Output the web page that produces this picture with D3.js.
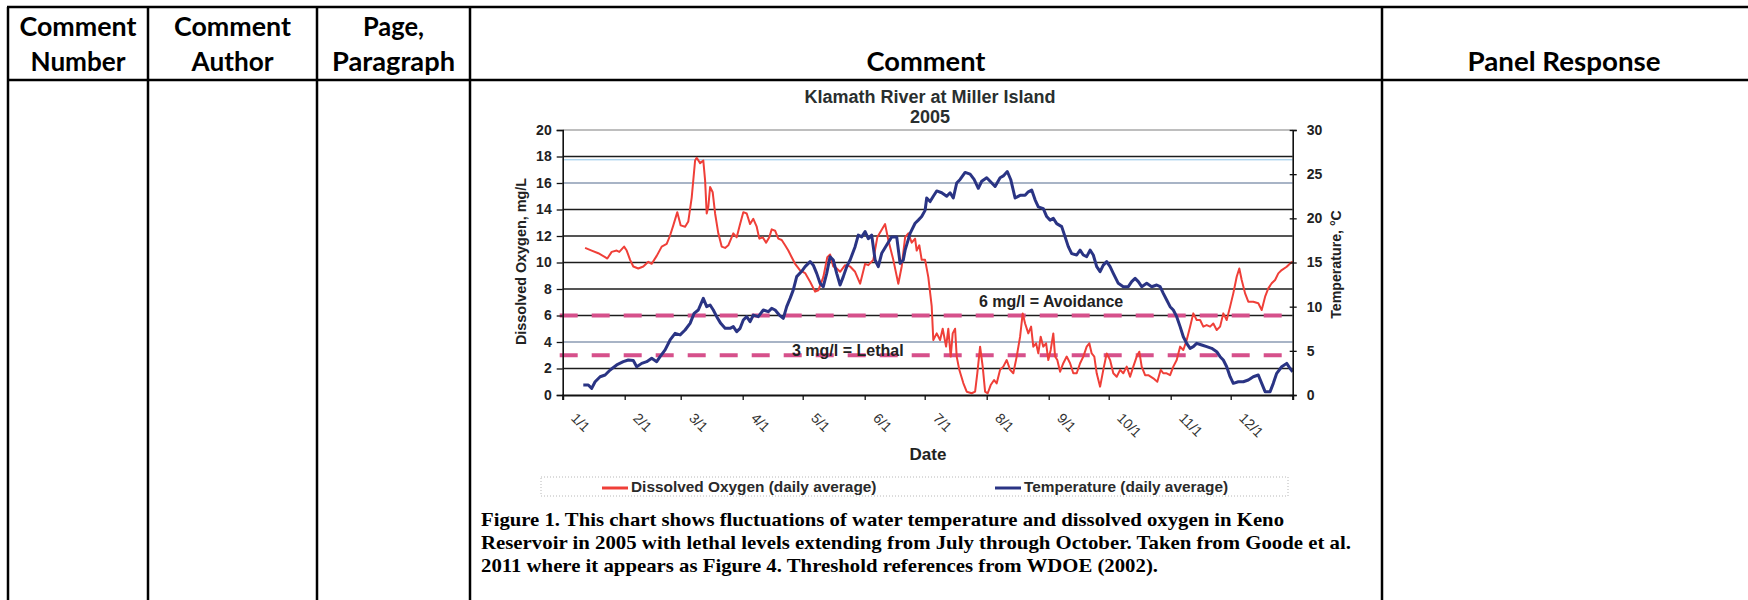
<!DOCTYPE html>
<html>
<head>
<meta charset="utf-8">
<script src="https://cdn.jsdelivr.net/npm/d3@7"></script>
<style>
  html, body { margin: 0; padding: 0; background: #fff; }
  svg { display: block; }
</style>
</head>
<body>
<svg id="page" width="1748" height="600"></svg>
<script>
// ---- Data -------------------------------------------------------------
// Daily-average dissolved oxygen, Klamath River at Miller Island, 2005
// [day of year (0 = Jan 1), mg/L]
const dissolvedOxygen = [
  [11.2,11.1],[14.5,10.9],[17.8,10.7],[21.2,10.4],[22.3,10.3],[24.5,10.8],[27,10.9],[28.3,10.8],
  [30.7,11.2],[32,10.9],[33.7,10.2],[35.3,9.7],[37.8,9.55],[40.3,9.7],[42.8,10.05],[44.5,9.9],
  [47,10.5],[49.5,11.2],[52,11.4],[53.6,12.0],[55.3,12.8],[57.3,13.8],[59,12.8],[61.2,12.7],
  [62.8,13.1],[64.5,14.9],[66.2,17.7],[67,17.9],[68.7,17.5],[70.3,17.7],[71.2,16.2],[72,13.7],
  [72.8,14.2],[73.7,15.7],[75,15.3],[76.2,13.7],[77.8,12.2],[79.5,11.2],[81.2,11.1],[82.8,11.3],
  [85.3,12.2],[87,11.9],[88.7,12.9],[90.3,13.8],[92,13.7],[93.7,12.9],[95.3,13.3],[97,12.7],
  [98.3,11.8],[100,11.9],[101.7,11.5],[103.3,11.9],[104.5,12.5],[106.2,12.4],[107.8,11.8],
  [109.5,11.7],[111.2,11.3],[112.8,10.9],[114.5,10.4],[116.2,9.9],[118.7,9.4],[121.2,9.2],
  [123.7,8.55],[126.2,7.8],[127.8,7.9],[130.3,8.9],[132.3,10.4],[133.7,10.6],[135.3,9.7],
  [137,9.55],[138.7,9.3],[141.2,9.8],[143.7,9.7],[146.2,9.3],[148.7,8.4],[151.2,9.9],[152.8,9.8],
  [155.3,10.2],[157.3,11.9],[161.2,12.9],[162.8,11.7],[165.3,10.2],[167.8,8.4],[169.5,9.7],
  [171.2,11.9],[172.8,12.2],[174.5,11.5],[176.2,11.8],[177,10.9],[178.3,11.3],[179.5,10.2],
  [181.2,10.2],[182.8,8.9],[184.5,6.7],[185.3,4.15],[187,4.65],[188.7,4.15],[190,5.0],
  [191.7,3.65],[192.8,5.0],[194,2.9],[195,4.65],[196.2,5.0],[197,2.9],[198.3,1.9],[200.3,0.9],
  [202,0.25],[204.5,0.13],[206.2,0.25],[207.3,1.64],[208.7,3.65],[210,2.14],[211.2,0.25],
  [212.5,0.13],[214,0.75],[215.7,1.13],[217,0.88],[218.7,1.9],[220.3,2.14],[222,2.64],
  [223.7,1.9],[225.3,1.64],[227,2.9],[228.7,4.4],[230,6.16],[231.2,5.4],[232.8,4.65],
  [234.2,5.16],[235.3,3.65],[236.7,3.9],[237.8,3.14],[239,4.4],[240.3,3.65],[241.7,3.9],
  [242.8,2.64],[244,3.4],[245.3,4.65],[246.2,2.9],[247.3,2.64],[248.7,1.76],[250.3,2.4],
  [252,2.9],[253.7,2.4],[255.3,1.64],[257,1.64],[258.7,2.4],[260.3,2.9],[262,3.65],[263.3,3.9],
  [264.5,3.14],[265.8,2.9],[267,1.64],[268.7,0.63],[270.3,1.9],[272,3.14],[273.7,2.64],
  [275.3,1.64],[277,1.38],[278.7,1.9],[280.3,1.64],[282,2.14],[283.7,1.38],[285.3,2.14],
  [287,2.9],[288.3,3.27],[289.5,2.14],[291.2,1.5],[292.8,1.5],[295.3,1.26],[297.3,1.0],
  [299,1.9],[300.3,1.64],[302,1.64],[303.7,1.5],[305.3,2.14],[307,2.64],[308.7,3.65],
  [310.3,3.4],[312,4.15],[313.7,5.16],[315.3,6.16],[317,5.66],[318.7,5.66],[320.3,5.16],
  [322,5.28],[323.7,5.16],[325.3,5.4],[327,4.9],[328.7,5.16],[330.3,6.16],[332,5.66],
  [333.7,6.67],[335.3,7.67],[337,8.93],[338.3,9.55],[339.5,8.68],[341.2,7.67],[342.8,7.04],
  [345.3,7.04],[347.8,6.92],[349.5,6.41],[351.2,7.42],[352.8,8.05],[354.5,8.43],[356.2,8.68],
  [357.8,9.18],[359.5,9.43],[362,9.68],[363.7,9.93],[365,10.06]
];

// Daily-average water temperature [day of year, °C]
const waterTemperature = [
  [10.3,1.13],[12.8,1.13],[14.5,0.75],[16.2,1.5],[18.7,2.07],[21.2,2.26],[23.7,2.83],[27,3.4],
  [30.3,3.77],[32.8,3.96],[35.3,3.9],[37,3.2],[39.5,3.58],[42,3.77],[44.5,4.15],[47,3.77],
  [48.7,4.34],[51.2,5.1],[53.7,6.23],[56.2,6.98],[58.7,6.8],[61.2,7.36],[63.7,8.11],[65.7,9.24],
  [67.8,9.62],[70.3,10.94],[72,10],[73.7,10.19],[75.3,9.62],[77,8.87],[79,8.11],[81.2,7.55],
  [83.7,7.55],[85.3,7.74],[87,7.17],[88.7,7.55],[90.3,8.49],[92,8.87],[93.7,8.3],[95.3,9.05],
  [97.8,8.87],[100.3,9.62],[102.8,9.43],[104.5,9.81],[106.2,9.62],[108.3,9.05],[110.3,8.68],
  [112,10],[113.7,10.94],[115.3,11.9],[117,13.4],[119.5,14],[121.2,14.53],[123.7,15.1],
  [125.3,14.7],[127,13.77],[128.7,12.64],[130.3,12.26],[132,13.77],[133.7,15.66],[135.3,15.28],
  [137,13.77],[138.7,12.45],[140.3,13.4],[142,14.53],[143.7,15.28],[146.2,16.79],[147.8,18.1],
  [149.5,17.9],[151.2,18.5],[152.8,17.7],[154.5,18.1],[156.2,15.28],[157.8,14.53],[159.5,16.04],
  [162,16.98],[164.5,17.9],[167,17.9],[168.7,14.9],[170.3,15.28],[171.2,16.4],[173.7,18.3],
  [176.2,19.44],[177.8,19.8],[179.5,20.2],[181.2,20.9],[182,22.3],[183.7,21.9],[185.3,22.5],
  [187,23.1],[189.5,22.9],[192,22.5],[193.7,22.9],[195.3,22.3],[197,24],[198.7,24.4],
  [201.2,25.2],[203.7,25],[205.7,24.4],[207.8,23.4],[209.5,24.2],[212,24.6],[213.7,24.2],
  [216.2,23.6],[218.7,24.6],[220.3,24.8],[222.3,25.3],[224,24.4],[226.2,22.3],[228.7,22.6],
  [231.2,22.6],[232.8,23],[234.5,23.2],[236.2,22.1],[237.8,21.3],[240.3,21.1],[242,20.2],
  [243.7,19.8],[245.3,20],[247,19.4],[249.5,19.06],[251.2,17.9],[252.8,16.8],[254.5,16],
  [257,15.85],[258.7,16.4],[260.3,15.85],[262,15.66],[263.7,16.4],[265.3,15.85],[267,14.53],
  [268.7,13.96],[270.3,14.7],[272,15.1],[273.7,14.53],[275.3,13.77],[277.8,12.64],[280.3,12.26],
  [282.8,12.26],[284.5,12.83],[286.2,13.2],[287.8,12.83],[289.5,12.26],[292,12.64],[294.5,12.26],
  [297,12.45],[298.7,12.26],[300.3,11.5],[302,10.75],[303.7,10],[305.3,9.62],[307,8.87],
  [308.7,7.74],[310.3,6.6],[312,5.85],[313.7,5.28],[315.3,5.47],[317,5.85],[319.5,5.66],
  [322,5.47],[324.5,5.28],[327,4.9],[328.7,4.34],[330.3,3.96],[332,3.2],[333.7,2.07],
  [335.3,1.32],[337.8,1.5],[340.3,1.5],[342.8,1.7],[345.3,2.07],[347.8,2.26],[349.5,1.32],
  [351.2,0.38],[353.7,0.38],[355.3,1.32],[357,2.45],[359.5,3.2],[362,3.58],[363.7,3.0],[365,2.64]
];

const oxygenTicks = [0, 2, 4, 6, 8, 10, 12, 14, 16, 18, 20];
const temperatureTicks = [0, 5, 10, 15, 20, 25, 30];
const monthLabels = ["1/1","2/1","3/1","4/1","5/1","6/1","7/1","8/1","9/1","10/1","11/1","12/1"];
const thresholds = [
  { value: 6, label: "6 mg/l = Avoidance" },
  { value: 3, label: "3 mg/l = Lethal" }
];
const chartTitle = ["Klamath River at Miller Island", "2005"];
const seriesNames = ["Dissolved Oxygen (daily average)", "Temperature (daily average)"];
const headerLabels = [
  ["Comment", "Number"],
  ["Comment", "Author"],
  ["Page,", "Paragraph"],
  ["Comment"],
  ["Panel Response"]
];
const captionLines = [
  "Figure 1. This chart shows fluctuations of water temperature and dissolved oxygen in Keno",
  "Reservoir in 2005 with lethal levels extending from July through October. Taken from Goode et al.",
  "2011 where it appears as Figure 4. Threshold references from WDOE (2002)."
];

// ---- Page / table ------------------------------------------------------
const svg = d3.select("#page");
const W = 1748, H = 600;
svg.append("rect").attr("width", W).attr("height", H).attr("fill", "#fff");

const colEdges = [8, 148, 317, 470, 1382, 1746];
const headerTop = 7, headerBottom = 80;
const headFont = "Lato, 'Open Sans', sans-serif";
const headWidths = [[117, 95], [117, 82], [61, 123], [119], [193]];

const table = svg.append("g");
headerLabels.forEach((lines, i) => {
  const cx = (colEdges[i] + colEdges[i + 1]) / 2;
  const baselines = lines.length === 2 ? [36, 71] : [71];
  lines.forEach((t, j) => {
    table.append("text")
      .attr("x", cx).attr("y", baselines[j])
      .attr("text-anchor", "middle")
      .attr("font-family", headFont).attr("font-weight", 700)
      .attr("font-size", 26).attr("fill", "#000")
      .attr("textLength", headWidths[i][j]).attr("lengthAdjust", "spacingAndGlyphs")
      .text(t);
  });
});
[headerTop, headerBottom].forEach(y => {
  table.append("line").attr("x1", colEdges[0] - 1).attr("x2", W)
    .attr("y1", y).attr("y2", y).attr("stroke", "#000").attr("stroke-width", 2.5);
});
colEdges.slice(0, 5).forEach(x => {
  table.append("line").attr("x1", x).attr("x2", x)
    .attr("y1", headerTop).attr("y2", H).attr("stroke", "#000").attr("stroke-width", 2.5);
});

// ---- Chart -------------------------------------------------------------
const plot = { left: 562.7, right: 1292.7, top: 130, bottom: 395 };
const yearStart = Date.UTC(2005, 0, 1);
const toDate = d => new Date(yearStart + d * 864e5);

const x = d3.scaleUtc()
  .domain([new Date(yearStart), new Date(Date.UTC(2006, 0, 1))])
  .range([plot.left, plot.right]);
const yDO = d3.scaleLinear().domain([0, 20]).range([plot.bottom, plot.top]);
const yT = d3.scaleLinear().domain([0, 30]).range([plot.bottom, plot.top]);

const chartFont = "'Liberation Sans', Arial, sans-serif";
const ink = "#222";
const chart = svg.append("g");

// horizontal gridlines every 2 mg/L
const gridTone = { 20: "#a9a9a9", 16: "#8b9bb3", 4: "#8b9bb3" };
chart.append("g").selectAll("line")
  .data(oxygenTicks.filter(v => v > 0))
  .join("line")
  .attr("x1", plot.left).attr("x2", plot.right)
  .attr("y1", d => yDO(d)).attr("y2", d => yDO(d))
  .attr("stroke", d => gridTone[d] || "#1c1c1c")
  .attr("stroke-width", 1.3);
// faint blue rule just under the 18 mg/L gridline
chart.append("line")
  .attr("x1", plot.left).attr("x2", plot.right)
  .attr("y1", yDO(18) + 3.3).attr("y2", yDO(18) + 3.3)
  .attr("stroke", "#8ec3e6").attr("stroke-width", 1);

// threshold lines
chart.append("g").selectAll("line")
  .data(thresholds)
  .join("line")
  .attr("x1", plot.left - 3).attr("x2", plot.right)
  .attr("y1", d => yDO(d.value)).attr("y2", d => yDO(d.value))
  .attr("stroke", "#d6508b").attr("stroke-width", 4)
  .attr("stroke-dasharray", "18,14");

// data series
const lineDO = d3.line().x(d => x(toDate(d[0]))).y(d => yDO(d[1]));
const lineT = d3.line().x(d => x(toDate(d[0]))).y(d => yT(d[1]));
chart.append("path").datum(dissolvedOxygen)
  .attr("d", lineDO).attr("fill", "none")
  .attr("stroke", "#ef3f38").attr("stroke-width", 2)
  .attr("stroke-linejoin", "round");
chart.append("path").datum(waterTemperature)
  .attr("d", lineT).attr("fill", "none")
  .attr("stroke", "#2a3484").attr("stroke-width", 3)
  .attr("stroke-linejoin", "round");

// threshold labels
const thrLabelPos = { 6: { x: 979, dy: -9 }, 3: { x: 792, dy: 1 } };
chart.append("g").selectAll("text")
  .data(thresholds)
  .join("text")
  .attr("x", d => thrLabelPos[d.value].x)
  .attr("y", d => yDO(d.value) + thrLabelPos[d.value].dy)
  .attr("font-family", chartFont).attr("font-weight", 700)
  .attr("font-size", 16).attr("fill", ink)
  .text(d => d.label);

// axes
const styleAxis = (g, size, weight) => {
  g.attr("font-family", null).attr("font-size", null);
  g.selectAll("text")
    .attr("font-family", chartFont).attr("font-size", size)
    .attr("font-weight", weight).attr("fill", ink);
  g.selectAll("line").attr("stroke", "#111").attr("stroke-width", 1.3);
};

const gLeft = chart.append("g").attr("transform", `translate(${plot.left},0)`)
  .call(d3.axisLeft(yDO).tickValues(oxygenTicks).tickSize(6).tickPadding(5));
styleAxis(gLeft, 14, 700);
gLeft.select(".domain").attr("stroke", "#111").attr("stroke-width", 1.6);

const gRight = chart.append("g").attr("transform", `translate(${plot.right},0)`)
  .call(d3.axisRight(yT).tickValues(temperatureTicks).tickSize(4).tickPadding(10));
styleAxis(gRight, 14, 700);
gRight.selectAll(".tick line").attr("x1", -3);
gRight.select(".domain").attr("stroke", "#111").attr("stroke-width", 1.6);

const monthTicks = d3.utcMonth.range(new Date(yearStart), new Date(Date.UTC(2006, 0, 2)));
const gBottom = chart.append("g").attr("transform", `translate(0,${plot.bottom})`)
  .call(d3.axisBottom(x).tickValues(monthTicks).tickSize(5)
    .tickFormat((d, i) => monthLabels[i] || ""));
styleAxis(gBottom, 14, 400);
gBottom.select(".domain").attr("stroke", "#111").attr("stroke-width", 2);
gBottom.selectAll(".tick text")
  .attr("y", 0).attr("dy", null)
  .attr("text-anchor", "start")
  .attr("fill", "#333")
  .attr("transform", "translate(7,24) rotate(45)");

// titles
chart.append("g").selectAll("text")
  .data(chartTitle)
  .join("text")
  .attr("x", 930).attr("y", (d, i) => 102.5 + i * 20)
  .attr("text-anchor", "middle")
  .attr("font-family", chartFont).attr("font-weight", 700)
  .attr("font-size", 18).attr("fill", "#2a2f2f")
  .text(d => d);

chart.append("text")
  .attr("transform", `translate(526,${(plot.top + plot.bottom) / 2 - 1}) rotate(-90)`)
  .attr("text-anchor", "middle")
  .attr("font-family", chartFont).attr("font-weight", 700)
  .attr("font-size", 14.4).attr("fill", ink)
  .text("Dissolved Oxygen, mg/L");

chart.append("text")
  .attr("transform", `translate(1341,${(plot.top + plot.bottom) / 2 + 2}) rotate(-90)`)
  .attr("text-anchor", "middle")
  .attr("font-family", chartFont).attr("font-weight", 700)
  .attr("font-size", 14.2).attr("fill", ink)
  .text("Temperature, °C");

chart.append("text")
  .attr("x", 928).attr("y", 460)
  .attr("text-anchor", "middle")
  .attr("font-family", chartFont).attr("font-weight", 700)
  .attr("font-size", 17).attr("fill", ink)
  .text("Date");

// legend
const legend = chart.append("g");
legend.append("rect")
  .attr("x", 541).attr("y", 477).attr("width", 747).attr("height", 19)
  .attr("fill", "none").attr("stroke", "#b8b8b8").attr("stroke-width", 1)
  .attr("stroke-dasharray", "1,2");
const legendItems = [
  { name: seriesNames[0], color: "#ef3f38", x0: 602 },
  { name: seriesNames[1], color: "#2a3484", x0: 995 }
];
legendItems.forEach(it => {
  legend.append("line")
    .attr("x1", it.x0).attr("x2", it.x0 + 26)
    .attr("y1", 488).attr("y2", 488)
    .attr("stroke", it.color).attr("stroke-width", 3);
  legend.append("text")
    .attr("x", it.x0 + 29).attr("y", 492)
    .attr("font-family", chartFont).attr("font-weight", 700)
    .attr("font-size", 15.4).attr("fill", "#2a2a2a")
    .text(it.name);
});

// caption
const captionWidths = [803, 870, 677];
svg.append("g").selectAll("text")
  .data(captionLines)
  .join("text")
  .attr("x", 481).attr("y", (d, i) => 526 + i * 23)
  .attr("font-family", "'Liberation Serif', 'Times New Roman', serif")
  .attr("font-weight", 700).attr("font-size", 19).attr("fill", "#000")
  .attr("textLength", (d, i) => captionWidths[i])
  .attr("lengthAdjust", "spacingAndGlyphs")
  .text(d => d);
</script>
</body>
</html>
